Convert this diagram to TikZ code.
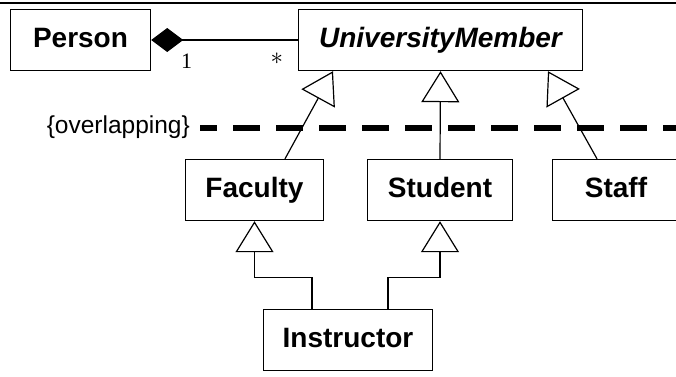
\documentclass[tikz,border=0pt]{standalone}
\usepackage{fontspec}
\setmainfont{Liberation Sans}
\newfontfamily\multfont{Liberation Serif}
\usetikzlibrary{arrows.meta,calc}
\begin{document}
\begin{tikzpicture}[x=1pt,y=-1pt,
  cls/.style={draw, line width=1.4pt, minimum height=61pt, inner sep=0pt,
    text height=20pt, text depth=6pt,
    font=\bfseries\fontsize{28}{30}\selectfont},
  gen/.style={-{Triangle[open,length=31pt,width=38pt]}, line width=1.2pt},
  mult/.style={anchor=base, inner sep=0pt, font=\multfont\fontsize{22}{24}\selectfont},
]
\useasboundingbox (0,0) rectangle (676,376);
\clip (0,0) rectangle (676,376);

% rule along the top
\draw[line width=2pt] (0,2.5) -- (676,2.5);

% classes
\node[cls, minimum width=140pt] (person) at (80.5,40) {Person};
\node[cls, minimum width=284pt, font=\bfseries\itshape\fontsize{28}{30}\selectfont]
  (um) at (440.5,40) {UniversityMember};
\node[cls, minimum width=138pt] (faculty) at (254.5,190) {Faculty};
\node[cls, minimum width=145pt] (student) at (440,190) {Student};
\node[cls, minimum width=127pt] (staff) at (616,190) {Staff};
\node[cls, minimum width=169pt] (instr) at (348,340) {Instructor};

% composition
\draw[line width=1.2pt, {Diamond[length=32pt,width=24pt]}-] (person) -- (um);
\node[mult] (m1) at ($(person.east)+(35.5,28)$) {1};
\node[mult, font=\fontsize{26}{28}\selectfont] (mstar) at ($(um.west)+(-21,24)$) {$\ast$};

% generalization set constraint
\node[font=\fontsize{24.5}{26}\selectfont, anchor=east, inner sep=0pt] (ov) at (190,127) {\{overlapping\}};
\coordinate (dashend) at (676,128);
\draw[line width=5.5pt, dash pattern=on 27pt off 16pt, dash phase=10pt]
  ($(ov.east)+(10,1)$) -- (dashend);

% generalizations
\draw[gen] ($(faculty.north)+(30.5,0)$) -- ($(um.south)+(-107.5,0)$);
\draw[gen] (student.north) -- (um.south);
\draw[gen] ($(staff.north)+(-19,0)$) -- ($(um.south)+(107.5,0)$);

\draw[gen] ($(instr.north)+(-36,0)$) -- ++(0,-31) -| (faculty.south);
\draw[gen] ($(instr.north)+(40,0)$) -- ++(0,-31) -| (student.south);
\end{tikzpicture}
\end{document}
